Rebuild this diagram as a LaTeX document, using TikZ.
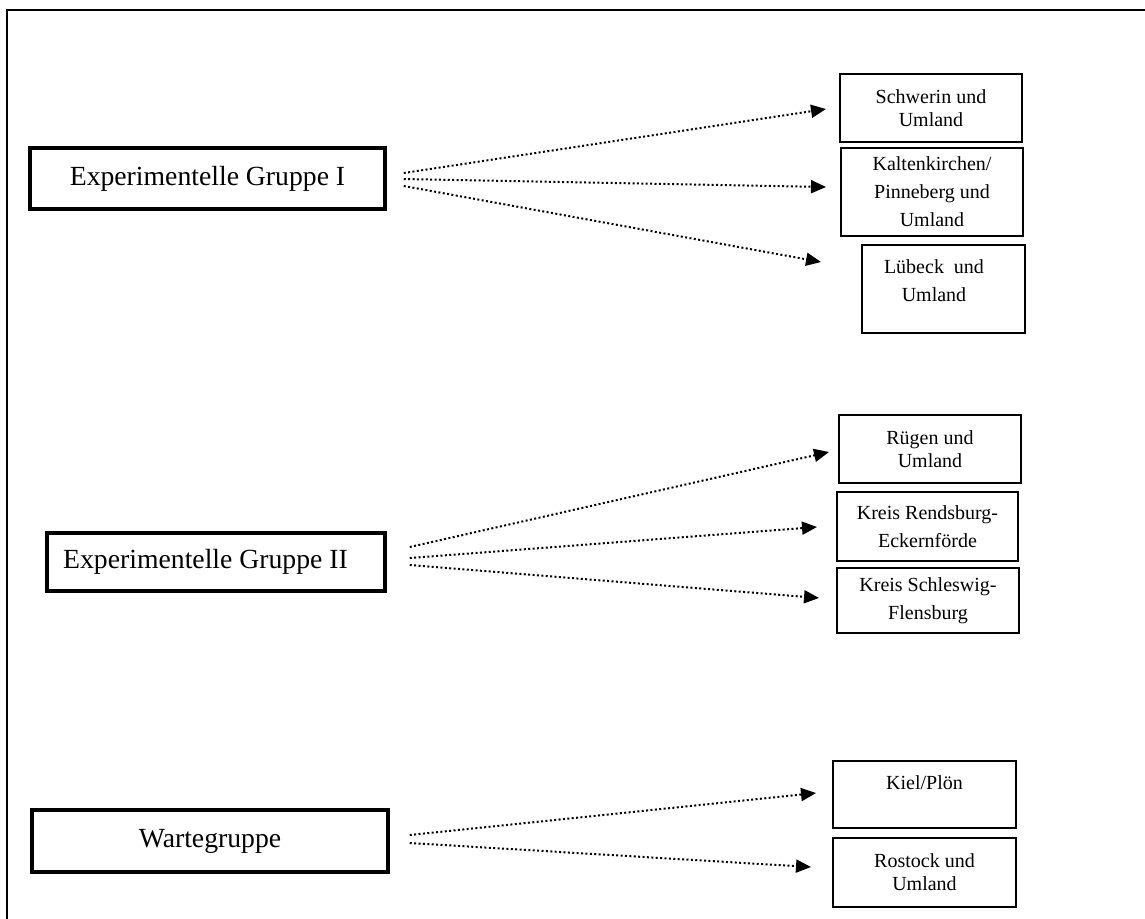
\documentclass[tikz,border=0pt]{standalone}
\usepackage{fontspec}
\setmainfont{Liberation Serif}
\usetikzlibrary{arrows.meta,calc}
\begin{document}
\begin{tikzpicture}[x=1pt,y=-1pt,
  groupbox/.style={draw, line width=3.5pt, inner sep=0pt,
    font=\fontsize{27.7}{32}\selectfont},
  regionbox/.style={draw, line width=2pt, inner sep=0pt, align=center,
    font=\fontsize{20}{23}\selectfont},
  widelines/.style={font=\fontsize{20}{28}\selectfont},
  link/.style={line width=2pt, dash pattern=on 2pt off 2.4pt,
    -{Triangle[length=15pt,width=13pt]}}]
  \useasboundingbox (0,0) rectangle (1145,918);

  % page frame (open to the right and bottom)
  \draw[line width=2pt] (1150,10) -- (7,10) -- (7,925);

  % groups
  \node[groupbox, minimum width=355pt, minimum height=61pt] (g1) at (207.5,178.5)
    {Experimentelle Gruppe I};
  \node[groupbox, minimum width=338pt, minimum height=58pt] (g2) at (216,562)
    {\hspace*{-21pt}Experimentelle Gruppe II};
  \node[groupbox, minimum width=356pt, minimum height=62pt] (g3) at (210,841)
    {Wartegruppe};

  % regions of group I
  \node[regionbox, minimum width=182pt, minimum height=68pt] (s1) at (931,108)
    {Schwerin und\\Umland};
  \node[regionbox, widelines, minimum width=182pt, minimum height=88pt] (s2) at (932,192)
    {Kaltenkirchen/\\Pinneberg und\\Umland};
  \node[regionbox, widelines, text depth=16pt, minimum width=163pt, minimum height=88pt] (s3) at (943.5,289)
    {\hspace*{-19pt}Lübeck~ und\\\hspace*{-19pt}Umland};

  % regions of group II
  \node[regionbox, minimum width=182pt, minimum height=68pt] (t1) at (930,449)
    {Rügen und\\Umland};
  \node[regionbox, widelines, minimum width=181pt, minimum height=69pt] (t2) at (927.5,526.5)
    {Kreis Rendsburg-\\Eckernförde};
  \node[regionbox, widelines, minimum width=182pt, minimum height=65pt] (t3) at (928,600.5)
    {Kreis Schleswig-\\Flensburg};

  % regions of the waiting group
  \node[regionbox, minimum width=183pt, minimum height=67pt] (w1) at (924.5,794.5)
    {Kiel/Plön\\\mbox{}};
  \node[regionbox, minimum width=183pt, minimum height=69pt] (w2) at (924.5,872.5)
    {Rostock und\\Umland};

  % assignments
  \draw[link] ($(g1.east)+(17,-5.5)$) -- ($(s1.west)+(-13,1)$);
  \draw[link] ($(g1.east)+(17,0.5)$)  -- ($(s2.west)+(-14,-5)$);
  \draw[link] ($(g1.east)+(17,7.5)$)  -- ($(s3.west)+(-40,-27)$);

  \draw[link] ($(g2.east)+(23,-15)$) -- ($(t1.west)+(-9,3)$);
  \draw[link] ($(g2.east)+(23,-4)$)  -- ($(t2.west)+(-19,0.5)$);
  \draw[link] ($(g2.east)+(23,3)$)   -- ($(t3.west)+(-17,-2.5)$);

  \draw[link] ($(g3.east)+(20,-6)$) -- ($(w1.west)+(-16,-1.5)$);
  \draw[link] ($(g3.east)+(20,2)$)  -- ($(w2.west)+(-21,-5.5)$);
\end{tikzpicture}
\end{document}
